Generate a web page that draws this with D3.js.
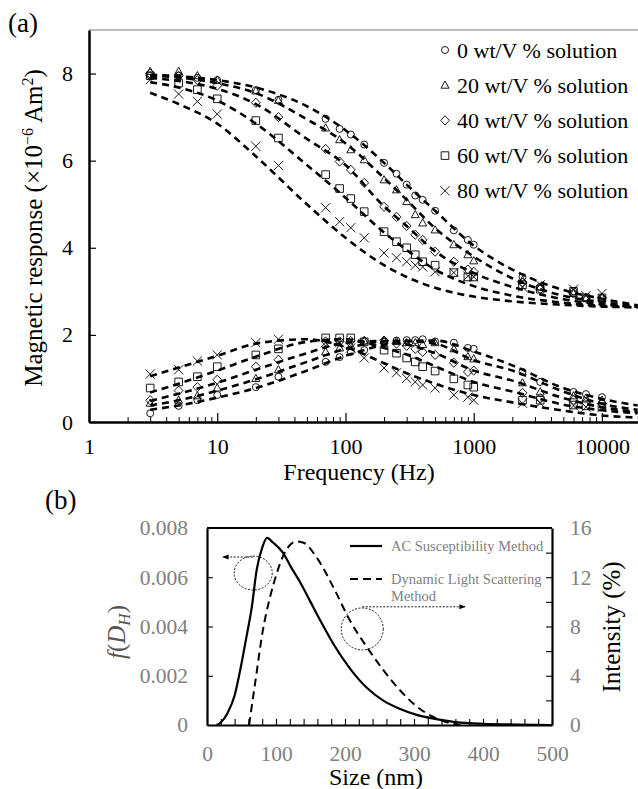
<!DOCTYPE html>
<html>
<head>
<meta charset="utf-8">
<script src="https://cdn.jsdelivr.net/npm/d3@7"></script>
<style>
  body { margin: 0; background: #fff; }
  text { font-family: "Liberation Serif", "Times New Roman", serif; }
</style>
</head>
<body>
<div class="container"></div>
<script>
const WIDTH = 638;
const HEIGHT = 789;

// ---- panel (a) data ----
var seriesNames = ['0 wt/V % solution', '20 wt/V % solution', '40 wt/V % solution', '60 wt/V % solution', '80 wt/V % solution'];
var seriesShapes = ['circle', 'triangle', 'diamond', 'square', 'cross'];

var freq = [3, 5, 7, 10, 20, 30, 70, 90, 110, 140, 200, 250, 300, 350, 400, 500, 700, 900, 1000, 2400, 3300, 6000, 7500, 10000];

var real0  = [7.95, 7.95, 7.90, 7.85, 7.62, 7.40, 6.96, 6.73, 6.60, 6.37, 5.95, 5.70, 5.45, 5.20, 5.10, 4.85, 4.40, 4.18, 4.07, 3.33, 3.10, 3.00, 2.85, 2.85];
var real20 = [8.05, 8.05, 7.95, 7.85, 7.60, 7.38, 6.75, 6.48, 6.25, 6.02, 5.56, 5.33, 5.06, 4.76, 4.57, 4.41, 4.07, 3.84, 3.70, 3.25, 3.10, 2.95, 2.85, 2.85];
var real40 = [8.00, 7.95, 7.85, 7.72, 7.33, 7.00, 6.27, 5.98, 5.79, 5.49, 4.94, 4.71, 4.50, 4.30, 4.18, 3.91, 3.68, 3.50, 3.45, 3.20, 3.05, 2.95, 2.85, 2.85];
var real60 = [7.95, 7.78, 7.63, 7.42, 6.92, 6.52, 5.68, 5.36, 5.13, 4.83, 4.37, 4.14, 4.00, 3.84, 3.68, 3.60, 3.43, 3.33, 3.33, 3.15, 3.05, 3.00, 2.85, 2.85];
var real80 = [7.86, 7.53, 7.36, 7.07, 6.33, 5.89, 4.92, 4.60, 4.46, 4.23, 3.88, 3.77, 3.68, 3.60, 3.56, 3.45, 3.43, 3.35, 3.33, 3.10, 3.15, 3.05, 2.90, 2.95];

var imag0  = [0.20, 0.37, 0.50, 0.62, 0.80, 1.04, 1.38, 1.49, 1.61, 1.65, 1.84, 1.87, 1.88, 1.88, 1.90, 1.85, 1.82, 1.70, 1.68, 1.15, 0.92, 0.69, 0.64, 0.57];
var imag20 = [0.43, 0.50, 0.60, 0.78, 1.00, 1.20, 1.61, 1.70, 1.75, 1.86, 1.87, 1.85, 1.82, 1.82, 1.78, 1.82, 1.68, 1.50, 1.45, 0.90, 0.69, 0.60, 0.55, 0.50];
var imag40 = [0.50, 0.72, 0.80, 0.97, 1.27, 1.43, 1.85, 1.85, 1.86, 1.86, 1.87, 1.80, 1.75, 1.68, 1.61, 1.54, 1.36, 1.15, 1.18, 0.67, 0.55, 0.50, 0.45, 0.42];
var imag60 = [0.78, 0.92, 1.04, 1.27, 1.54, 1.68, 1.93, 1.93, 1.93, 1.84, 1.65, 1.58, 1.47, 1.38, 1.27, 1.17, 0.99, 0.85, 0.80, 0.50, 0.50, 0.39, 0.37, 0.35];
var imag80 = [1.10, 1.20, 1.40, 1.54, 1.82, 1.90, 1.82, 1.82, 1.70, 1.47, 1.24, 1.13, 1.00, 0.92, 0.85, 0.78, 0.62, 0.57, 0.50, 0.43, 0.43, 0.37, 0.34, 0.33];

// dashed fit curves, read at these frequencies
var fitFreq = [3, 5, 10, 20, 50, 100, 200, 300, 500, 1000, 2000, 5000, 10000, 19000];

var fitReal0  = [7.97, 7.94, 7.85, 7.68, 7.25, 6.70, 5.95, 5.45, 4.85, 4.05, 3.50, 3.03, 2.83, 2.68];
var fitReal20 = [7.95, 7.91, 7.78, 7.55, 6.95, 6.40, 5.60, 5.10, 4.45, 3.80, 3.30, 2.90, 2.75, 2.66];
var fitReal40 = [7.90, 7.83, 7.65, 7.30, 6.50, 5.90, 4.95, 4.50, 3.92, 3.42, 3.10, 2.82, 2.70, 2.65];
var fitReal60 = [7.80, 7.68, 7.38, 6.85, 5.90, 5.15, 4.35, 3.95, 3.50, 3.12, 2.90, 2.74, 2.67, 2.64];
var fitReal80 = [7.56, 7.30, 6.85, 6.10, 5.00, 4.23, 3.60, 3.33, 3.08, 2.88, 2.77, 2.69, 2.65, 2.63];

var fitImag0  = [0.28, 0.38, 0.56, 0.78, 1.18, 1.52, 1.77, 1.86, 1.87, 1.62, 1.30, 0.78, 0.53, 0.38];
var fitImag20 = [0.38, 0.50, 0.72, 0.98, 1.38, 1.68, 1.85, 1.86, 1.80, 1.42, 1.18, 0.70, 0.42, 0.28];
var fitImag40 = [0.48, 0.65, 0.90, 1.20, 1.58, 1.82, 1.86, 1.78, 1.58, 1.18, 0.95, 0.55, 0.34, 0.23];
var fitImag60 = [0.68, 0.88, 1.18, 1.50, 1.84, 1.90, 1.70, 1.55, 1.28, 0.92, 0.70, 0.40, 0.27, 0.20];
var fitImag80 = [1.05, 1.25, 1.52, 1.80, 1.90, 1.72, 1.35, 1.12, 0.88, 0.62, 0.45, 0.26, 0.15, 0.10];

var yTicksA = [0, 2, 4, 6, 8];
var xDecades = [1, 10, 100, 1000, 10000];

// ---- panel (b) data ----
var acSize = [14, 20, 30, 40, 50, 58, 65, 72, 80, 87, 96, 110, 122, 135, 150, 165, 183, 207, 232, 255, 280, 305, 330, 360, 400, 450, 500];
var acValue = [0, 0.0001, 0.0005, 0.0012, 0.0025, 0.0037, 0.0048, 0.0063, 0.0072, 0.0076, 0.0074, 0.0070, 0.0064, 0.0058, 0.0050, 0.0042, 0.0033, 0.0023, 0.0015, 0.0010, 0.00065, 0.0004, 0.00025, 0.00012, 0.00005, 0.00002, 0];
var dlsSize = [61, 70, 81, 91, 101, 110, 120, 130, 140, 159, 183, 207, 232, 255, 280, 304, 328, 352, 367];
var dlsValue = [0, 3.5, 7.7, 10.3, 12.3, 13.7, 14.6, 14.9, 14.8, 13.6, 11.2, 8.5, 6.3, 4.5, 2.8, 1.5, 0.65, 0.16, 0];

var leftTicksB = [0, 0.002, 0.004, 0.006, 0.008];
var rightTicksB = [0, 2, 4, 6, 8, 10, 12, 14, 16];
var sizeTicksB = d3.range(0, 501, 20);

var A = { left: 89, right: 638, top: 30, bottom: 422 };
var B = { left: 207, right: 552, top: 528, bottom: 725 };
var SERIF = '"Liberation Serif", "Times New Roman", serif';

var svg = d3.select('.container').append('svg')
  .attr('width', WIDTH)
  .attr('height', HEIGHT)
  .style('font-family', SERIF);

function markerPath(type) {
  switch (type) {
    case 'circle':
      return d3.symbol(d3.symbolCircle, Math.PI * 3.5 * 3.5)();
    case 'triangle':
      return 'M0,-4.2L4,3L-4,3Z';
    case 'diamond':
      return 'M0,-4.6L4.4,0L0,4.6L-4.4,0Z';
    case 'square':
      return 'M-3.8,-3.8H3.8V3.8H-3.8Z';
    default:
      return 'M-4.6,-4.6L4.6,4.6M4.6,-4.6L-4.6,4.6';
  }
}

// ================= panel (a) =================
var xA = d3.scaleLog().domain([1, 19100]).range([A.left, A.right]);
var yA = d3.scaleLinear().domain([0, 9]).range([A.bottom, A.top]);

var gA = svg.append('g');

// top border
gA.append('line')
  .attr('x1', A.left).attr('x2', A.right)
  .attr('y1', A.top).attr('y2', A.top)
  .attr('stroke', '#777').attr('stroke-width', 1);

var minorFreq = [];
xDecades.forEach(function (d) {
  for (var k = 2; k <= 9; k++) { if (d * k < 19100) minorFreq.push(d * k); }
});

gA.append('g')
  .attr('transform', 'translate(0,' + A.bottom + ')')
  .call(d3.axisBottom(xA).tickValues(minorFreq).tickSizeInner(-5).tickSizeOuter(0).tickFormat(''))
  .call(function (g) { g.select('.domain').remove(); });

var xAxisA = gA.append('g')
  .attr('transform', 'translate(0,' + A.bottom + ')')
  .call(d3.axisBottom(xA).tickValues(xDecades).tickSizeInner(-9).tickSizeOuter(0)
    .tickPadding(16).tickFormat(d3.format('d')));
xAxisA.selectAll('text').attr('font-size', 22).attr('font-family', SERIF).attr('fill', '#000');
xAxisA.select('.domain').attr('stroke-width', 2.5);
xAxisA.selectAll('.tick line').attr('stroke-width', 1.2);

var yAxisA = gA.append('g')
  .attr('transform', 'translate(' + A.left + ',0)')
  .call(d3.axisLeft(yA).tickValues(yTicksA).tickSizeInner(-7).tickSizeOuter(0).tickPadding(16));
yAxisA.selectAll('text').attr('font-size', 22).attr('font-family', SERIF).attr('fill', '#000');
yAxisA.select('.domain').attr('stroke-width', 2.5);
yAxisA.selectAll('.tick line').attr('stroke-width', 1.2);

var fitLine = d3.line()
  .x(function (d) { return xA(d[0]); })
  .y(function (d) { return yA(d[1]); })
  .curve(d3.curveMonotoneX);

var fitSets = [fitReal0, fitReal20, fitReal40, fitReal60, fitReal80,
               fitImag0, fitImag20, fitImag40, fitImag60, fitImag80];

gA.selectAll('.fit')
  .data(fitSets)
  .enter().append('path')
  .attr('class', 'fit')
  .attr('d', function (vals) { return fitLine(d3.zip(fitFreq, vals)); })
  .attr('fill', 'none')
  .attr('stroke', '#000')
  .attr('stroke-width', 2.6)
  .attr('stroke-dasharray', '7,5');

var markerSets = [
  { shape: 0, vals: real0 }, { shape: 1, vals: real20 }, { shape: 2, vals: real40 },
  { shape: 3, vals: real60 }, { shape: 4, vals: real80 },
  { shape: 0, vals: imag0 }, { shape: 1, vals: imag20 }, { shape: 2, vals: imag40 },
  { shape: 3, vals: imag60 }, { shape: 4, vals: imag80 }
];

markerSets.forEach(function (s) {
  gA.append('g').selectAll('path')
    .data(d3.zip(freq, s.vals))
    .enter().append('path')
    .attr('transform', function (d) { return 'translate(' + xA(d[0]) + ',' + yA(d[1]) + ')'; })
    .attr('d', markerPath(seriesShapes[s.shape]))
    .attr('fill', 'none')
    .attr('stroke', '#000')
    .attr('stroke-width', 0.9);
});

// legend (a)
var legA = gA.append('g').selectAll('g')
  .data(seriesNames)
  .enter().append('g')
  .attr('transform', function (d, i) { return 'translate(445,' + (50 + i * 35.2) + ')'; });
legA.append('path')
  .attr('d', function (d, i) { return markerPath(seriesShapes[i]); })
  .attr('fill', 'none').attr('stroke', '#000').attr('stroke-width', 0.9);
legA.append('text')
  .attr('x', 12).attr('y', 7.5)
  .attr('font-size', 22)
  .text(function (d) { return d; });

gA.append('text')
  .attr('x', 8).attr('y', 32)
  .attr('font-size', 27)
  .text('(a)');

gA.append('text')
  .attr('x', 359).attr('y', 480)
  .attr('text-anchor', 'middle')
  .attr('font-size', 24)
  .text('Frequency (Hz)');

var yTitleA = gA.append('text')
  .attr('transform', 'translate(42,228) rotate(-90)')
  .attr('text-anchor', 'middle')
  .attr('font-size', 25);
yTitleA.append('tspan').text('Magnetic response (\u00d710');
yTitleA.append('tspan').attr('dy', -9).attr('font-size', 16).text('\u22126');
yTitleA.append('tspan').attr('dy', 9).text(' Am');
yTitleA.append('tspan').attr('dy', -9).attr('font-size', 16).text('2');
yTitleA.append('tspan').attr('dy', 9).text(')');

// ================= panel (b) =================
var xB = d3.scaleLinear().domain([0, 500]).range([B.left, B.right]);
var yL = d3.scaleLinear().domain([0, 0.008]).range([B.bottom, B.top]);
var yR = d3.scaleLinear().domain([0, 16]).range([B.bottom, B.top]);

var gB = svg.append('g');
var GRAY = '#808080';

var xAxisB = gB.append('g')
  .attr('transform', 'translate(0,' + B.bottom + ')')
  .call(d3.axisBottom(xB).tickValues(sizeTicksB).tickSizeInner(-6).tickSizeOuter(0).tickPadding(21)
    .tickFormat(function (d) { return d % 100 === 0 ? d : ''; }));
var yAxisL = gB.append('g')
  .attr('transform', 'translate(' + B.left + ',0)')
  .call(d3.axisLeft(yL).tickValues(leftTicksB).tickSizeInner(-6).tickSizeOuter(0).tickPadding(19)
    .tickFormat(function (d) { return d === 0 ? '0' : d.toFixed(3); }));
var yAxisR = gB.append('g')
  .attr('transform', 'translate(' + B.right + ',0)')
  .call(d3.axisRight(yR).tickValues(rightTicksB).tickSizeInner(-6).tickSizeOuter(0).tickPadding(18)
    .tickFormat(function (d) { return d % 4 === 0 ? d : ''; }));

[xAxisB, yAxisL, yAxisR].forEach(function (ax) {
  ax.selectAll('text').attr('font-size', 21.5).attr('font-family', SERIF).attr('fill', GRAY);
  ax.select('.domain').attr('stroke-width', 2.2);
  ax.selectAll('.tick line').attr('stroke-width', 1.1);
});

gB.append('line')
  .attr('x1', B.left).attr('x2', B.right)
  .attr('y1', B.top).attr('y2', B.top)
  .attr('stroke', '#000').attr('stroke-width', 1.8);

var acLine = d3.line()
  .x(function (d) { return xB(d[0]); })
  .y(function (d) { return yL(d[1]); })
  .curve(d3.curveMonotoneX);
var dlsLine = d3.line()
  .x(function (d) { return xB(d[0]); })
  .y(function (d) { return yR(d[1]); })
  .curve(d3.curveMonotoneX);

gB.append('path')
  .attr('d', acLine(d3.zip(acSize, acValue)))
  .attr('fill', 'none').attr('stroke', '#000').attr('stroke-width', 2.2);
gB.append('path')
  .attr('d', dlsLine(d3.zip(dlsSize, dlsValue)))
  .attr('fill', 'none').attr('stroke', '#000').attr('stroke-width', 2)
  .attr('stroke-dasharray', '8,5');

// annotations: dotted rings with arrows pointing to the matching axis
svg.append('defs').append('marker')
  .attr('id', 'arrow')
  .attr('viewBox', '0 0 10 10')
  .attr('refX', 9).attr('refY', 5)
  .attr('markerWidth', 7).attr('markerHeight', 7)
  .attr('orient', 'auto-start-reverse')
  .append('path').attr('d', 'M0,1L10,5L0,9Z').attr('fill', '#000');

gB.append('ellipse')
  .attr('cx', xB(67)).attr('cy', yL(0.00617))
  .attr('rx', 19).attr('ry', 17)
  .attr('fill', 'none').attr('stroke', '#000').attr('stroke-width', 0.9)
  .attr('stroke-dasharray', '2,1.5');
gB.append('line')
  .attr('x1', xB(67)).attr('y1', yL(0.00682))
  .attr('x2', xB(23)).attr('y2', yL(0.00682))
  .attr('stroke', '#000').attr('stroke-width', 0.9)
  .attr('stroke-dasharray', '2,1.5')
  .attr('marker-end', 'url(#arrow)');

gB.append('circle')
  .attr('cx', xB(225)).attr('cy', yR(7.8))
  .attr('r', 21)
  .attr('fill', 'none').attr('stroke', '#000').attr('stroke-width', 0.9)
  .attr('stroke-dasharray', '2,1.5');
gB.append('line')
  .attr('x1', xB(225)).attr('y1', yR(9.6))
  .attr('x2', xB(374)).attr('y2', yR(9.6))
  .attr('stroke', '#000').attr('stroke-width', 0.9)
  .attr('stroke-dasharray', '2,1.5')
  .attr('marker-end', 'url(#arrow)');

// legend (b)
gB.append('line')
  .attr('x1', 350).attr('x2', 382).attr('y1', 546).attr('y2', 546)
  .attr('stroke', '#000').attr('stroke-width', 2.2);
gB.append('text').attr('x', 391).attr('y', 551).attr('font-size', 14.5).attr('fill', GRAY)
  .text('AC Susceptibility Method');
gB.append('line')
  .attr('x1', 350).attr('x2', 382).attr('y1', 579).attr('y2', 579)
  .attr('stroke', '#000').attr('stroke-width', 2)
  .attr('stroke-dasharray', '8,5');
gB.append('text').attr('x', 391).attr('y', 584).attr('font-size', 14.5).attr('fill', GRAY)
  .text('Dynamic Light Scattering');
gB.append('text').attr('x', 391).attr('y', 601).attr('font-size', 14.5).attr('fill', GRAY)
  .text('Method');

gB.append('text')
  .attr('x', 45).attr('y', 509)
  .attr('font-size', 27)
  .text('(b)');

gB.append('text')
  .attr('x', 376).attr('y', 785)
  .attr('text-anchor', 'middle')
  .attr('font-size', 24)
  .text('Size (nm)');

var fTitle = gB.append('text')
  .attr('transform', 'translate(125,632) rotate(-90)')
  .attr('text-anchor', 'middle')
  .attr('font-size', 25)
  .attr('fill', '#555');
fTitle.append('tspan').attr('font-style', 'italic').text('f');
fTitle.append('tspan').text('(');
fTitle.append('tspan').attr('font-style', 'italic').text('D');
fTitle.append('tspan').attr('font-style', 'italic').attr('font-size', 17).attr('dy', 5).text('H');
fTitle.append('tspan').attr('dy', -5).text(')');

gB.append('text')
  .attr('transform', 'translate(620,627) rotate(-90)')
  .attr('text-anchor', 'middle')
  .attr('font-size', 25)
  .text('Intensity (%)');
</script>
</body>
</html>
